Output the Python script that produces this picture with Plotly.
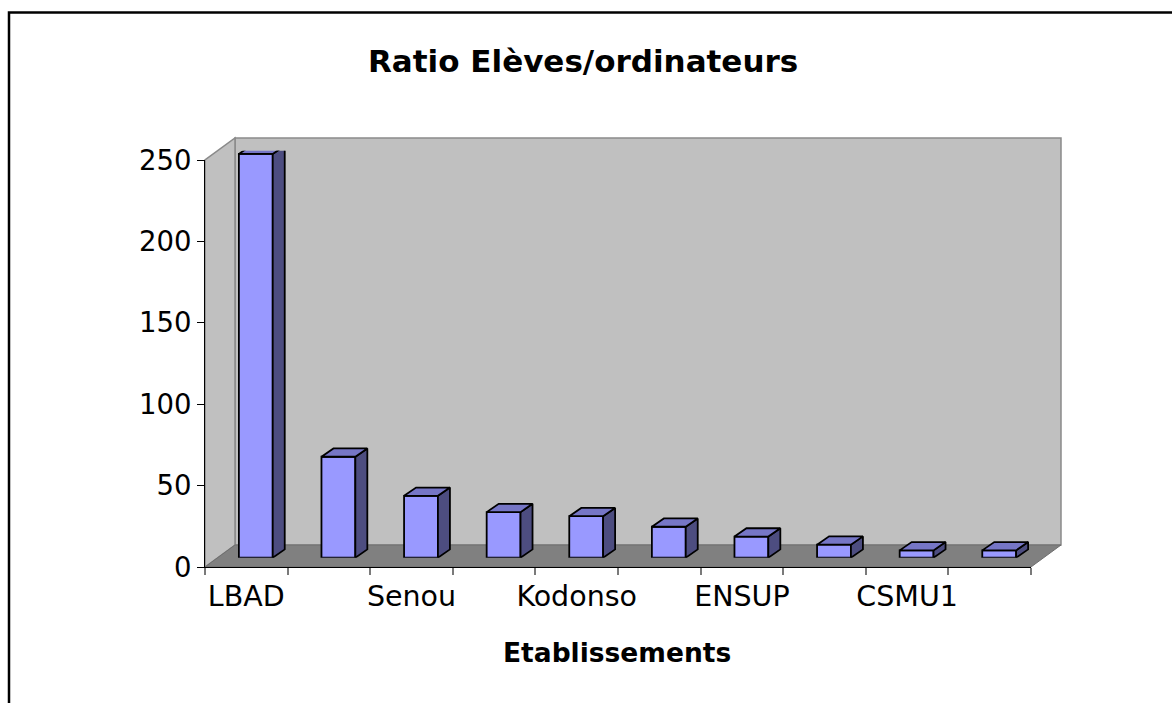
import plotly.graph_objects as go

# ---------------- data ----------------
labels = ["LBAD", "", "Senou", "", "Kodonso", "", "ENSUP", "", "CSMU1", ""]
ratios = [248, 62, 38, 28, 25.5, 19, 13, 8, 4.5, 4.5]
y_ticks = [0, 50, 100, 150, 200, 250]
title_text = "Ratio Elèves/ordinateurs"
x_title = "Etablissements"

# ---------------- geometry (pixels) ----------------
W, H = 1172, 703
FX0, FX1 = 205, 1031        # front x axis extent
FY0, FY1 = 567, 160         # front y pixel for 0 and for YMAX
YMAX = 250
DEPTH = (30, -22)           # offset of the back wall
BAR_OFF = (9.5, -9.3)       # offset of bar front faces
BAR_DEPTH = (12, -8.3)      # depth of each bar
BAR_W = 0.41
FONT = "DejaVu Sans"
EDGE = 1.8

n = len(ratios)
xs = list(range(n))


def px(x):
    return x / W


def py(y):
    return 1 - y / H


cat_px = (FX1 - FX0) / n
val_px = (FY0 - FY1) / YMAX
ddx = BAR_DEPTH[0] / cat_px
ddy = -BAR_DEPTH[1] / val_px

fig = go.Figure()

# empty trace so the front axes get drawn
fig.add_trace(go.Scatter(x=[None], y=[None], mode="markers", xaxis="x", yaxis="y",
                         hoverinfo="skip", showlegend=False))

# front faces
fig.add_trace(go.Bar(
    x=xs, y=ratios, width=BAR_W,
    marker=dict(color="#9999FF", line=dict(color="black", width=EDGE)),
    xaxis="x2", yaxis="y2", hoverinfo="skip", showlegend=False,
))

hw = BAR_W / 2
for c, v in zip(xs, ratios):
    # side face
    fig.add_trace(go.Scatter(
        x=[c + hw, c + hw + ddx, c + hw + ddx, c + hw, c + hw],
        y=[0, ddy, v + ddy, v, 0],
        mode="lines", fill="toself", fillcolor="#4D4D80",
        line=dict(color="black", width=EDGE),
        xaxis="x2", yaxis="y2", hoverinfo="skip", showlegend=False,
    ))
    # top face
    fig.add_trace(go.Scatter(
        x=[c - hw, c - hw + ddx, c + hw + ddx, c + hw, c - hw],
        y=[v, v + ddy, v + ddy, v, v],
        mode="lines", fill="toself", fillcolor="#7676C6",
        line=dict(color="black", width=EDGE),
        xaxis="x2", yaxis="y2", hoverinfo="skip", showlegend=False,
    ))

# ---------------- walls ----------------
bx0, bx1 = FX0 + DEPTH[0], FX1 + DEPTH[0]
by0, by1 = FY0 + DEPTH[1], FY1 + DEPTH[1]


def path(points):
    return "M " + " L ".join(f"{px(a):.5f},{py(b):.5f}" for a, b in points) + " Z"


shapes = [
    # back wall
    dict(type="path", xref="paper", yref="paper", layer="below",
         path=path([(bx0, by0), (bx1, by0), (bx1, by1), (bx0, by1)]),
         fillcolor="#C0C0C0", line=dict(color="#8A8A8A", width=1.5)),
    # side wall
    dict(type="path", xref="paper", yref="paper", layer="below",
         path=path([(FX0, FY0), (bx0, by0), (bx0, by1), (FX0, FY1)]),
         fillcolor="#C0C0C0", line=dict(color="#8A8A8A", width=1.5)),
    # floor
    dict(type="path", xref="paper", yref="paper", layer="below",
         path=path([(FX0, FY0), (FX1, FY0), (bx1, by0), (bx0, by0)]),
         fillcolor="#808080", line=dict(color="#6E6E6E", width=1)),
    # chart frame
    dict(type="path", xref="paper", yref="paper", layer="above",
         path=f"M {px(9)},{py(H + 10)} L {px(9)},{py(12.5)} L {px(W + 10)},{py(12.5)}",
         line=dict(color="black", width=2.5)),
]

annotations = [
    dict(text=f"<b>{title_text}</b>", x=px(583), y=py(61), xref="paper", yref="paper",
         xanchor="center", yanchor="middle", showarrow=False,
         font=dict(family=FONT, size=31, color="black")),
    dict(text=f"<b>{x_title}</b>", x=px(617), y=py(652), xref="paper", yref="paper",
         xanchor="center", yanchor="middle", showarrow=False,
         font=dict(family=FONT, size=26.5, color="black")),
]

tick_idx = [i for i, t in enumerate(labels) if t]

fig.update_layout(
    width=W, height=H,
    margin=dict(l=0, r=0, t=0, b=0, autoexpand=False),
    paper_bgcolor="white", plot_bgcolor="rgba(0,0,0,0)",
    showlegend=False,
    shapes=shapes, annotations=annotations,
    xaxis=dict(
        domain=[px(FX0), px(FX1)], range=[-0.5, n - 0.5], anchor="y",
        tickvals=tick_idx, ticktext=[labels[i] for i in tick_idx],
        ticks="", showline=True, linecolor="black", linewidth=1.2,
        showgrid=False, zeroline=False, fixedrange=True, automargin=False,
        ticklabelstandoff=4,
        tickfont=dict(family=FONT, size=28.5, color="black"),
        minor=dict(tickvals=[i - 0.5 for i in range(n + 1)], ticks="outside",
                   ticklen=7, tickcolor="#7A7A7A", tickwidth=1.5, showgrid=False),
    ),
    yaxis=dict(
        domain=[py(FY0), py(FY1)], range=[0, YMAX], anchor="x",
        tickvals=y_ticks, ticks="outside", ticklen=7, tickcolor="black", tickwidth=1.2,
        showline=True, linecolor="black", linewidth=1.2,
        showgrid=False, zeroline=False, fixedrange=True, automargin=False,
        tickfont=dict(family=FONT, size=27.5, color="black"),
    ),
    xaxis2=dict(
        domain=[px(FX0 + BAR_OFF[0]), px(FX1 + BAR_OFF[0])], range=[-0.5, n - 0.5],
        anchor="y2", visible=False, fixedrange=True, automargin=False,
    ),
    yaxis2=dict(
        domain=[py(FY0 + BAR_OFF[1]), py(FY1 + BAR_OFF[1])], range=[0, YMAX],
        anchor="x2", visible=False, fixedrange=True, automargin=False,
    ),
)

fig.write_html("out.html", config={"displayModeBar": False},
               post_script="document.body.style.margin='0';")
